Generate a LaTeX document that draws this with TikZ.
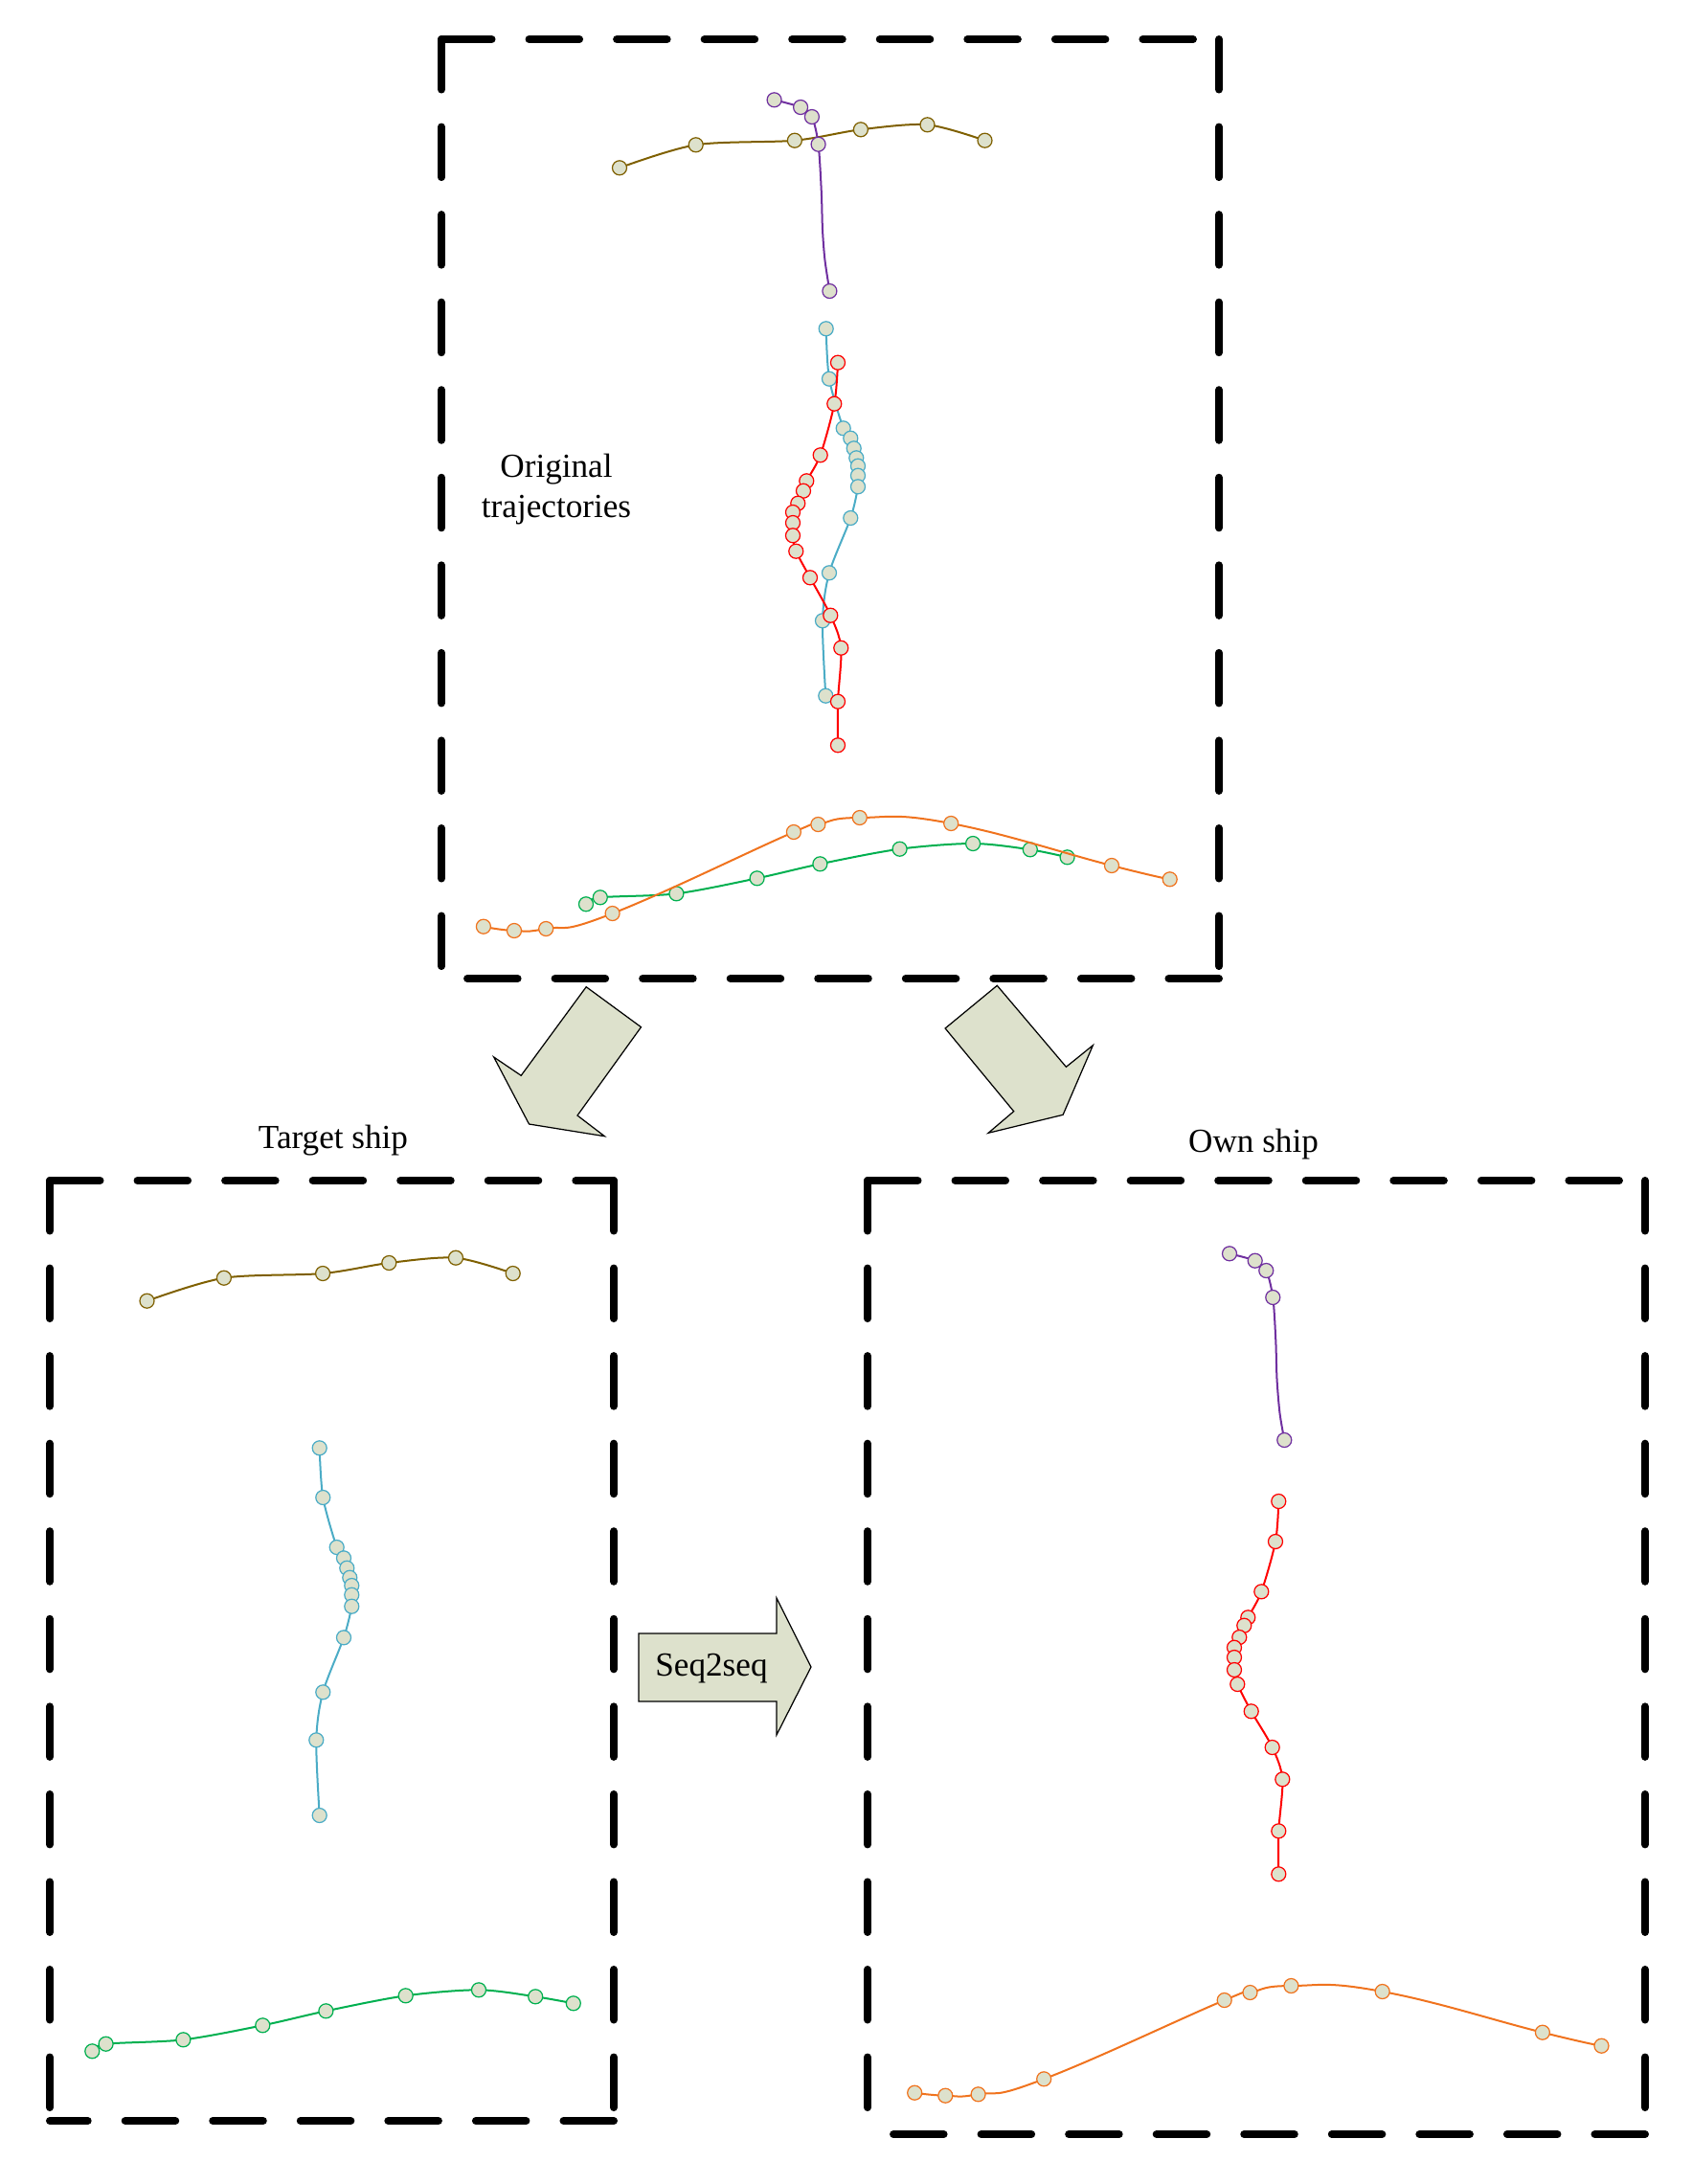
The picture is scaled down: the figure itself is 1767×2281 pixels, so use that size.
\documentclass[tikz,border=0pt]{standalone}
\usepackage{fontspec}
\setmainfont{Liberation Serif}
\definecolor{ptfill}{RGB}{221,225,204}
\definecolor{tbrown}{RGB}{127,96,0}
\definecolor{tpurple}{RGB}{112,48,160}
\definecolor{tcyan}{RGB}{75,172,198}
\definecolor{tred}{RGB}{255,0,0}
\definecolor{torange}{RGB}{240,115,30}
\definecolor{tgreen}{RGB}{0,176,80}
\newcommand\mydashbox[4]{%
  \draw[boxedge] (#1,#2) -- (#3,#2);
  \draw[boxedge] (#1,#2) -- (#1,#4);
  \draw[boxedge] (#3,#2) -- (#3,#4);
  \draw[boxedge] (#3,#4) -- (#1,#4);
}
\newcommand\mytraj[3][0.5]{%
  \draw[trajline,#2] plot[smooth,tension=#1] coordinates {#3};
}
\newcommand\mydots[2]{%
  \foreach \p in {#2} \filldraw[dotstyle,draw=#1] \p circle[radius=7.5];
}
\begin{document}
\begin{tikzpicture}[x=0.01cm,y=-0.01cm,
  boxedge/.style={line width=0.08cm, dash pattern=on 0.525cm off 0.39cm, line cap=round, line join=round},
  trajline/.style={line width=0.02cm},
  dotstyle/.style={fill=ptfill, line width=0.35pt},
  bigarrow/.style={fill=ptfill, draw=black, line width=0.35pt, line join=miter},
  lbl/.style={font=\fontsize{10}{12}\selectfont, inner sep=0pt, align=center}]
\useasboundingbox (0,0) rectangle (1767,2281);

% boxes
\mydashbox{461}{41}{1273}{1022}
\mydashbox{52}{1233}{641}{2215}
\mydashbox{906}{1233}{1718}{2229}

% labels
\node[lbl] (orig) at (581,511) {Original\\trajectories};
\node[lbl] (tgt) at (348,1191) {Target ship};
\node[lbl] (own) at (1309,1195) {Own ship};

% block arrows
\draw[bigarrow] (612.2,1030.7) -- (669.5,1072.7) -- (603,1165) -- (631.4,1186.7) -- (552.5,1174) -- (515.7,1104) -- (544.2,1123.3) -- cycle;
\draw[bigarrow] (1041.3,1029.3) -- (987.1,1074) -- (1058.7,1160.7) -- (1032.1,1183.3) -- (1110.1,1164.3) -- (1141.4,1091.7) -- (1113.4,1114.3) -- cycle;
\draw[bigarrow] (667,1706) -- (811,1706) -- (811,1669) -- (847,1741) -- (811,1812) -- (811,1777) -- (667,1777) -- cycle;
\node[lbl] (seq) at (743,1743) {Seq2seq};

% ---- top box trajectories ----
\mytraj{tbrown}{(647,175.3) (726.7,151.3) (829.9,146.7) (898.9,135.3) (968.5,130.3) (1028.5,146.7)}
\mydots{tbrown}{(647,175.3),(726.7,151.3),(829.9,146.7),(898.9,135.3),(968.5,130.3),(1028.5,146.7)}
\mytraj{tpurple}{(808.6,104.3) (836.1,112) (847.9,122) (854.6,150.7) (857.8,200) (859,240) (861.5,272) (866.4,304)}
\mydots{tpurple}{(808.6,104.3),(836.1,112),(847.9,122),(854.6,150.7),(866.4,304)}
\mytraj{tcyan}{(862.7,343.3) (866,395.7) (880.7,447.3) (888.3,457.7) (891.7,468.3) (894.3,478.3) (896,486.7) (896,496.7) (896,508.3) (888.3,541) (866,598.3) (859,648.3) (862.3,726.7)}
\mydots{tcyan}{(862.7,343.3),(866,395.7),(880.7,447.3),(888.3,457.7),(891.7,468.3),(894.3,478.3),(896,486.7),(896,496.7),(896,508.3),(888.3,541),(866,598.3),(859,648.3),(862.3,726.7)}
\mytraj{tred}{(875,378.7) (871.3,421.7) (856.7,475.3) (842.3,502.3) (839,512.7) (833.3,525.7) (828,535) (828,546) (828,559.3) (831.3,575.7) (846,603.3) (867.3,642.7) (878.3,676.7) (875,732.7) (875,778.3)}
\mydots{tred}{(875,378.7),(871.3,421.7),(856.7,475.3),(842.3,502.3),(839,512.7),(833.3,525.7),(828,535),(828,546),(828,559.3),(831.3,575.7),(846,603.3),(867.3,642.7),(878.3,676.7),(875,732.7),(875,778.3)}
\mytraj{tgreen}{(612,944.3) (626.8,937.3) (706.4,933.3) (790.6,917.3) (856.4,902.3) (939.6,886.7) (1016.1,881) (1075.8,887.3) (1114.6,895.3)}
\mydots{tgreen}{(612,944.3),(626.8,937.3),(706.4,933.3),(790.6,917.3),(856.4,902.3),(939.6,886.7),(1016.1,881),(1075.8,887.3),(1114.6,895.3)}
\mytraj[0.8]{torange}{(504.9,967.7) (537,972) (570.2,970) (639.6,954) (828.9,869) (854.4,861) (897.8,854) (993.2,860) (1161,904) (1221.7,918.3)}
\mydots{torange}{(504.9,967.7),(537,972),(570.2,970),(639.6,954),(828.9,869),(854.4,861),(897.8,854),(993.2,860),(1161,904),(1221.7,918.3)}

% ---- target ship box ----
\mytraj{tbrown}{(153.5,1358.7) (233.9,1334.7) (337.1,1330) (406.3,1319) (476,1313.7) (535.7,1330)}
\mydots{tbrown}{(153.5,1358.7),(233.9,1334.7),(337.1,1330),(406.3,1319),(476,1313.7),(535.7,1330)}
\mytraj{tcyan}{(333.7,1512.3) (337.3,1564) (351.7,1616) (359,1627.3) (362.3,1637.7) (365.3,1647.7) (367.3,1656) (367.3,1665.7) (367.3,1677.7) (359,1710.3) (337.3,1767.3) (330.3,1817.3) (333.7,1896)}
\mydots{tcyan}{(333.7,1512.3),(337.3,1564),(351.7,1616),(359,1627.3),(362.3,1637.7),(365.3,1647.7),(367.3,1656),(367.3,1665.7),(367.3,1677.7),(359,1710.3),(337.3,1767.3),(330.3,1817.3),(333.7,1896)}
\mytraj{tgreen}{(96.3,2142.3) (110.6,2134.7) (191.4,2130.3) (274.3,2115.3) (340.4,2100.3) (423.7,2084.3) (500,2078.3) (559.2,2085.3) (598.8,2092.3)}
\mydots{tgreen}{(96.3,2142.3),(110.6,2134.7),(191.4,2130.3),(274.3,2115.3),(340.4,2100.3),(423.7,2084.3),(500,2078.3),(559.2,2085.3),(598.8,2092.3)}

% ---- own ship box ----
\mytraj{tpurple}{(1284,1309.3) (1310.7,1316.7) (1322.3,1327) (1329.3,1355) (1332.3,1400) (1333.5,1440) (1336.5,1476) (1341.3,1504)}
\mydots{tpurple}{(1284,1309.3),(1310.7,1316.7),(1322.3,1327),(1329.3,1355),(1341.3,1504)}
\mytraj{tred}{(1335.3,1568) (1332,1610) (1317.3,1662.3) (1303.3,1689.3) (1299.3,1697.7) (1294.3,1710) (1289,1720.7) (1289,1731) (1289,1744) (1292.3,1759) (1306.7,1787.3) (1328.7,1825) (1339.3,1858.3) (1335.3,1912.3) (1335.3,1957.3)}
\mydots{tred}{(1335.3,1568),(1332,1610),(1317.3,1662.3),(1303.3,1689.3),(1299.3,1697.7),(1294.3,1710),(1289,1720.7),(1289,1731),(1289,1744),(1292.3,1759),(1306.7,1787.3),(1328.7,1825),(1339.3,1858.3),(1335.3,1912.3),(1335.3,1957.3)}
\mytraj[0.8]{torange}{(955.2,2185.7) (987.3,2188.7) (1021.6,2187.3) (1090.2,2171.3) (1278.7,2089) (1305.5,2081) (1348.4,2074) (1443.7,2080) (1610.9,2122.7) (1672.5,2136.7)}
\mydots{torange}{(955.2,2185.7),(987.3,2188.7),(1021.6,2187.3),(1090.2,2171.3),(1278.7,2089),(1305.5,2081),(1348.4,2074),(1443.7,2080),(1610.9,2122.7),(1672.5,2136.7)}
\end{tikzpicture}
\end{document}
